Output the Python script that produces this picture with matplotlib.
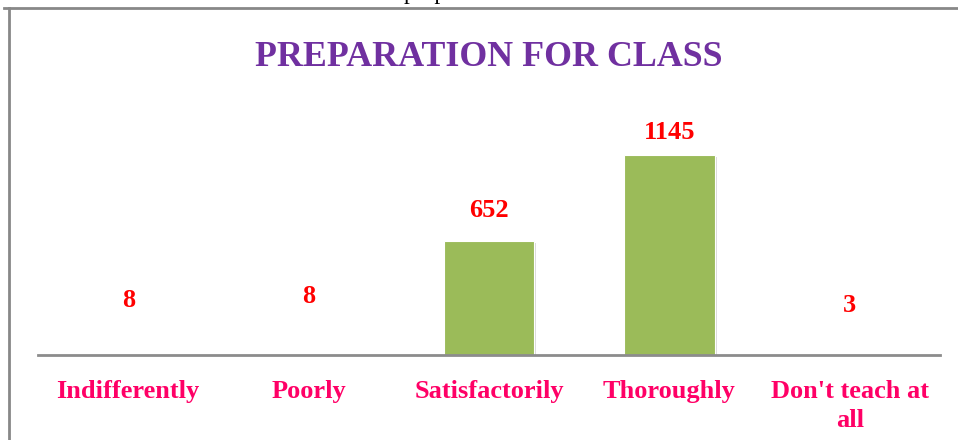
import matplotlib
matplotlib.use("Agg")
import matplotlib.pyplot as plt
import matplotlib.patheffects as pe
from matplotlib.lines import Line2D

categories = ["Indifferently", "Poorly", "Satisfactorily", "Thoroughly", "Don't teach at\nall"]
values = [8, 8, 652, 1145, 3]
title = "PREPARATION FOR CLASS"

# label vertical offsets (pixels above bar top) - styling only
label_offsets = [42, 46, 19, 11, 37]

W, H = 958, 440
fig = plt.figure(figsize=(W / 100, H / 100), dpi=100)
fig.patch.set_facecolor("white")

left, right = 38 / W, 940 / W
bottom = (H - 355) / H
top = (H - 105) / H
ax = fig.add_axes([left, bottom, right - left, top - bottom])
ax.set_facecolor("none")

serif = ["Liberation Serif", "DejaVu Serif"]

x = list(range(len(categories)))
bars = ax.bar(x, values, width=0.5, color="#9BBB59", edgecolor="white", linewidth=0.8, zorder=3)
for b in bars:
    b.set_path_effects([pe.SimplePatchShadow(offset=(1.5, -1.5), shadow_rgbFace="#9a9a9a", alpha=0.35), pe.Normal()])

ax.set_xlim(-0.5, len(categories) - 0.5)
ax.set_ylim(0, 1145 * 250 / 200)

for s in ["top", "right", "left"]:
    ax.spines[s].set_visible(False)
ax.spines["bottom"].set_color("#8c8c8c")
ax.spines["bottom"].set_linewidth(2)
ax.spines["bottom"].set_zorder(4)
ax.set_yticks([])
ax.set_xticks(x)
ax.set_xticklabels(categories, fontsize=19, fontweight="bold", color="#FF0066",
                   family=serif, linespacing=1.35)
ax.tick_params(axis="x", length=0, pad=18)

for xi, v, off in zip(x, values, label_offsets):
    ax.annotate(str(v), xy=(xi, v), xytext=(0, off), textcoords="offset pixels",
                ha="center", va="bottom", fontsize=19, fontweight="bold", color="#FF0000",
                family=serif)

fig.text(489 / W, 1 - 57 / H, title, ha="center", va="center", fontsize=25.8, fontweight="bold",
         color="#7030A0", family=serif)

# chart border (partially cut off)
fig.add_artist(Line2D([9 / W, 9 / W], [0, 1 - 8 / H], color="#888888", lw=2, transform=fig.transFigure))
fig.add_artist(Line2D([4 / W, 1], [1 - 8 / H, 1 - 8 / H], color="#888888", lw=2, transform=fig.transFigure))

# cut-off caption text at very top (only descenders visible, as in the source)
fig.text(425 / W, 1 + 1 / H, "prop", ha="center", va="baseline", fontsize=17, color="black",
         family=serif)

fig.savefig("out.png", dpi=100, facecolor="white")
